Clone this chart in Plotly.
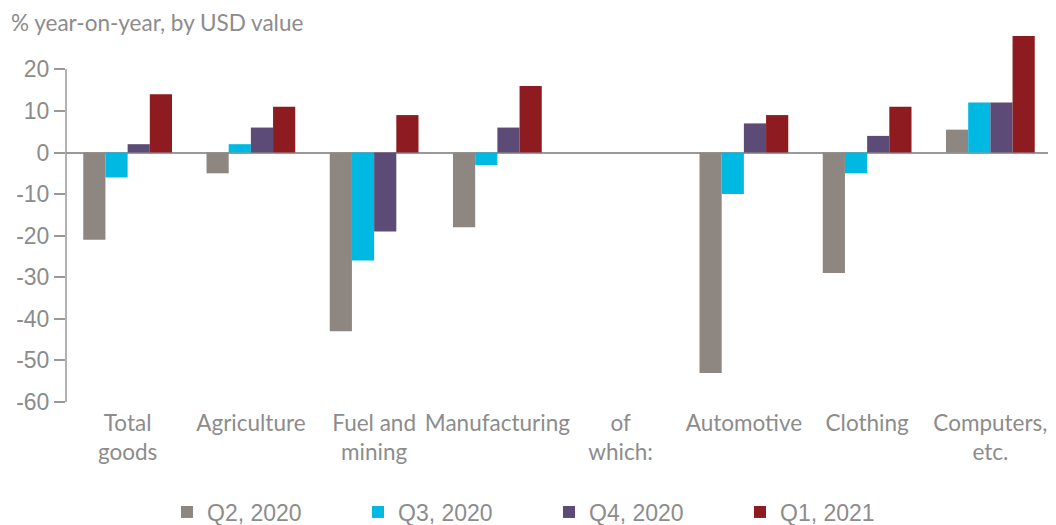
import plotly.graph_objects as go

categories = ["Total<br>goods", "Agriculture", "Fuel and<br>mining", "Manufacturing",
              "of<br>which:", "Automotive", "Clothing", "Computers,<br>etc."]
series_names = ["Q2, 2020", "Q3, 2020", "Q4, 2020", "Q1, 2021"]
q2_2020 = [-21, -5, -43, -18, None, -53, -29, 5.5]
q3_2020 = [-6, 2, -26, -3, None, -10, -5, 12]
q4_2020 = [2, 6, -19, 6, None, 7, 4, 12]
q1_2021 = [14, 11, 9, 16, None, 9, 11, 28]
y_ticks = [-60, -50, -40, -30, -20, -10, 0, 10, 20]
y_tick_text = ["-60", "-50", "-40", "-30", "-20", "-10", "0", "10", "20"]

colors = ["#8E8680", "#00B9E3", "#5C4B77", "#8E1B1F"]
grey = "#8C8C8C"

# page body has an 8px margin, so the figure is sized to fit the 1056x525 window
W, H = 1048, 517
M_L, M_R, M_T, M_B = 58, 4, 26, 123
plot_h = H - M_T - M_B

fig = go.Figure()
for name, vals, c in zip(series_names, [q2_2020, q3_2020, q4_2020, q1_2021], colors):
    fig.add_trace(go.Bar(x=categories, y=vals, name=name, marker_color=c,
                         marker_line_width=0))

fig.update_layout(
    width=W, height=H,
    margin=dict(l=M_L, r=M_R, t=M_T, b=M_B),
    plot_bgcolor="white", paper_bgcolor="white",
    barmode="group", bargap=0.28, bargroupgap=0,
    font=dict(family="Lato", color=grey, size=19),
    legend=dict(orientation="h", x=159 / W, xanchor="left", xref="container",
                y=13 / H, yanchor="middle", yref="container",
                font=dict(family="Liberation Sans", size=23, color=grey),
                entrywidth=146, itemwidth=30, traceorder="normal"),
    showlegend=True,
)
fig.update_xaxes(showline=False, ticks="", showgrid=False, automargin=False,
                 ticklabelstandoff=5,
                 tickfont=dict(family="Lato", size=22.5, color=grey))
fig.update_yaxes(range=[-60, 28.5], tickvals=y_ticks, ticktext=y_tick_text,
                 showgrid=False, automargin=False,
                 zeroline=True, zerolinecolor="#999999", zerolinewidth=2,
                 showline=False, ticks="outside", ticklen=11, tickcolor="#999999",
                 tickwidth=1.5,
                 tickfont=dict(family="Liberation Sans", size=23, color=grey))
fig.add_shape(type="line", xref="paper", yref="y", x0=0, x1=0, y0=-60, y1=20,
              line=dict(color="#999999", width=1.5))
fig.add_annotation(text="% year-on-year, by USD value", xref="paper", yref="paper",
                   x=-56 / (W - M_L - M_R), y=1 + M_T / plot_h,
                   xanchor="left", yanchor="top", borderpad=0,
                   showarrow=False, font=dict(family="Lato", size=22.5, color=grey))

fig.write_html("out.html")
